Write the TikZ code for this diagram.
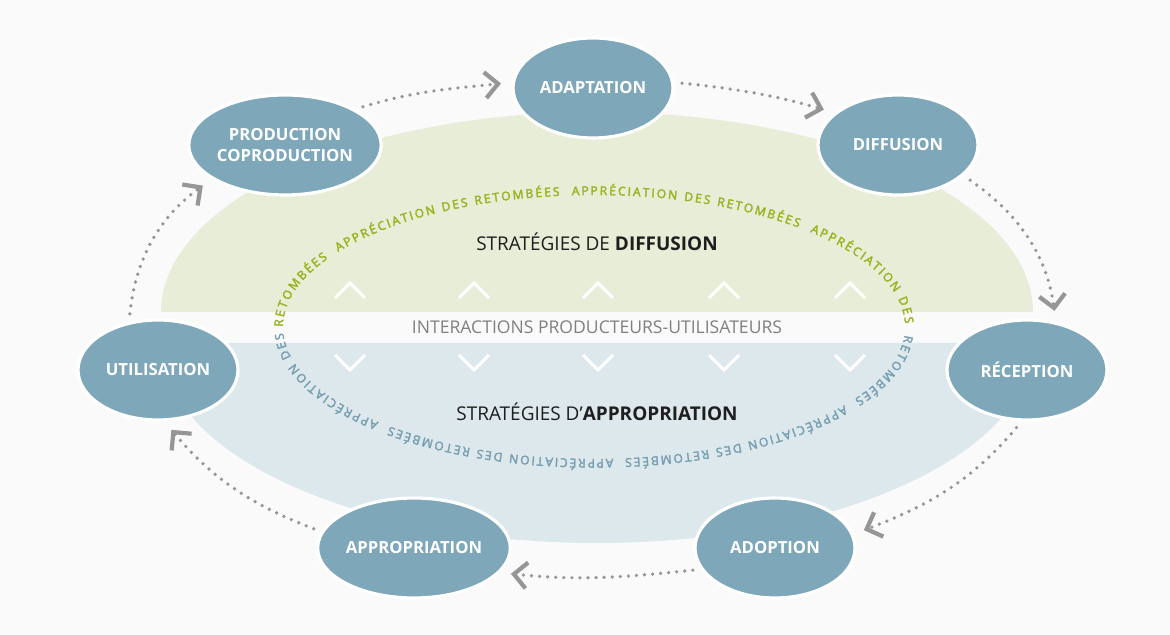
\documentclass[tikz,border=0pt]{standalone}
\usepackage{fontspec}
\setmainfont{Open Sans}
\newfontfamily\rimfont[FakeBold=2.6]{Open Sans}
\usetikzlibrary{arrows.meta, decorations.text, shapes.geometric}

\definecolor{nodeblue}{RGB}{127,167,186}
\definecolor{areagreen}{RGB}{232,237,216}
\definecolor{areablue}{RGB}{221,232,237}
\definecolor{textgreen}{RGB}{150,180,30}
\definecolor{textblue}{RGB}{118,158,177}
\definecolor{dotgray}{RGB}{150,150,150}
\definecolor{bandgray}{RGB}{128,128,128}
\definecolor{titleblack}{RGB}{30,30,30}

\begin{document}
\begin{tikzpicture}[
    x=0.02cm, y=0.02cm,
    phase/.style={ellipse,fill=nodeblue,draw=white,line width=1.8pt,minimum width=3.2cm,minimum height=2.0cm,inner sep=0pt,text=white,align=center,font=\fontsize{9.5}{11.5}\selectfont\bfseries},
    flow/.style={dotgray,line width=2.1pt,line cap=round,dash pattern=on 0pt off 4.6pt,shorten <=0.16cm,shorten >=0.22cm,-{Straight Barb[length=2.6mm,width=5.2mm,line width=2.4pt]}},
    caret/.style={white,line width=1.7pt},
    title/.style={text=titleblack,font=\fontsize{10.8}{12}\selectfont},
    rim/.style={decorate,decoration={text along path,text align={fit to path},text color=#1,
        text={|\fontsize{6.9}{8}\rimfont|RETOMBÉES {\ }APPRÉCIATION DES RETOMBÉES {\ }APPRÉCIATION DES RETOMBÉES {\ }APPRÉCIATION DES}}}
]
\useasboundingbox (0,0) rectangle (1170,635);
\fill[white!98!black] (0,0) rectangle (1170,635);

% zones
\fill[areagreen] (161,323) arc[start angle=180,end angle=0,x radius=436,y radius=200] -- cycle;
\fill[areablue] (161,292) arc[start angle=180,end angle=360,x radius=436,y radius=200] -- cycle;

% texte circulaire
\path[rim=textgreen,decoration={text align/right indent=2pt}] (283,308) arc[start angle=180,end angle=0,x radius=311,y radius=132];
\path[rim=textblue,decoration={text align/left indent=4.5pt,text align/right indent=3.5pt}] (905,308) arc[start angle=0,end angle=-180,x radius=311,y radius=132];

% chevrons
\foreach \x in {350,474,598,724,850} {
    \draw[caret] (\x-15,337) -- (\x,352) -- (\x+15,337);
    \draw[caret] (\x-15,280) -- (\x,265) -- (\x+15,280);
}

% titres
\node[title] (diffusion) at (597,393) {STRATÉGIES DE \textbf{DIFFUSION}};
\node[text=bandgray,font=\fontsize{10}{11}\selectfont] (interactions) at (597,308) {INTERACTIONS PRODUCTEURS-UTILISATEURS};
\node[title] (appropriation) at (597,223) {STRATÉGIES D’\textbf{APPROPRIATION}};

% étapes
\node[phase] (util) at (158,265) {UTILISATION};
\node[phase] (prod) at (285,490) {PRODUCTION\\COPRODUCTION};
\node[phase] (adapt) at (593,547) {ADAPTATION};
\node[phase] (diff) at (898,490) {DIFFUSION};
\node[phase] (recep) at (1027,265) {RÉCEPTION};
\node[phase] (adopt) at (775,87) {ADOPTION};
\node[phase] (approp) at (414,87) {APPROPRIATION};

% cycle
\draw[flow] (util.121) to[out=84,in=216] (prod.205);
\draw[flow] (prod.27) to[out=17,in=186] (adapt.176);
\draw[flow] (adapt.4) to[out=-6,in=164] (diff.153);
\draw[flow] (diff.-25) to[out=-35,in=98] (recep.59);
\draw[flow] (recep.-96) to[out=230,in=21] (adopt.10);
\draw[flow] (adopt.196) to[out=186,in=354] (approp.-16);
\draw[flow] (approp.170) to[out=159,in=310] (util.-83);
\end{tikzpicture}
\end{document}
